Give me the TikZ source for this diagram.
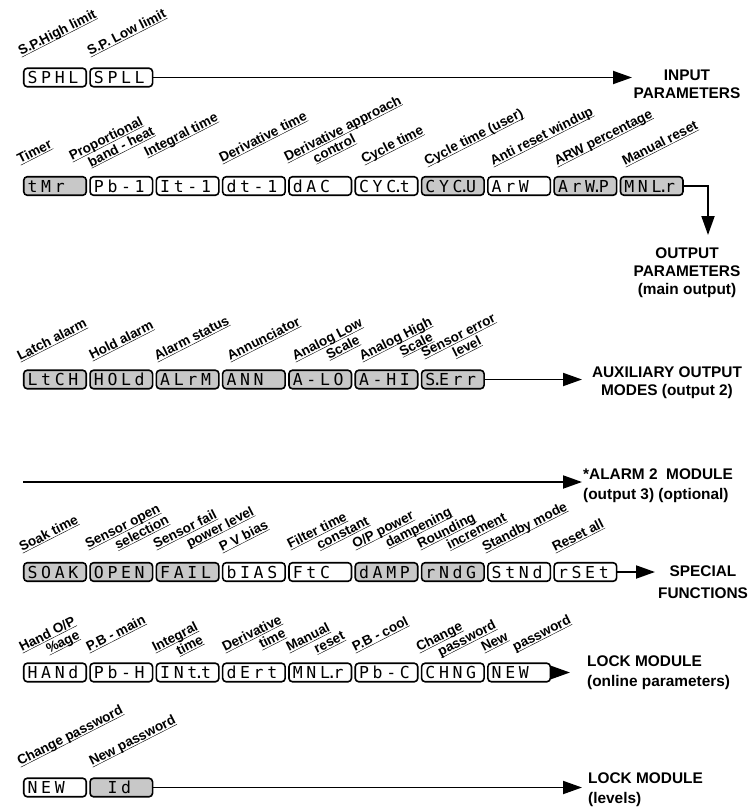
\documentclass[tikz,border=0pt]{standalone}
\usepackage{fontspec}
\setmainfont{Liberation Sans}
\newfontfamily\dispfont{DejaVu Sans Mono}
\usetikzlibrary{arrows.meta,calc}
\definecolor{dgray}{RGB}{200,200,200}
\newcommand\lbu[1]{\underline{\smash{#1}}}
\def\segs#1{\segsi#1\relax}
\def\segsi#1{\ifx#1\relax\else\ifx#1.\makebox[0pt]{.}\else\makebox[13.6pt]{#1}\fi\expandafter\segsi\fi}
\newcommand\onel[4]{\node[lbl] (#1) at (#2,#3) {\lbu{#4}};}
\newcommand\twol[6]{\node[lbl] (#1a) at (#2,#3) {\lbu{#4}};
  \node[lbl] (#1b) at ($(#1a.base west)+(27:#5pt)+(-63:14pt)$) {\lbu{#6}};}
\begin{document}
\begin{tikzpicture}[x=1pt,y=-1pt,
  disp/.style={draw, line width=1.6pt, rounded corners=3.5pt, minimum width=62.5pt,
    minimum height=18.5pt, inner sep=0pt, text height=12pt, text depth=0pt,
    font=\dispfont\fontsize{16.5}{16.5}\selectfont, fill=white},
  g/.style={fill=dgray},
  lbl/.style={font=\bfseries\fontsize{13.5}{14}\selectfont, rotate=27, anchor=base west, inner sep=0pt},
  side/.style={font=\bfseries\fontsize{15.4}{18}\selectfont, inner sep=0pt, text height=11pt, text depth=0pt},
  arr/.style={line width=1.9pt, -{Triangle[length=19pt,width=13pt]}}]
\useasboundingbox (0,0) rectangle (747,808);
% ---------- row 1
\node[disp] (a0) at (55,77.5) {\segs{SPHL}\kern4pt};
\node[disp] (a1) at (121.3,77.5) {\segs{SPLL}\kern4pt};
\coordinate (ta) at (632,77.5);
\draw[arr] (a1.east) -- (ta);
\node[side] (oa1) at (687,74.5) {INPUT};
\node[side] (oa2) at (687,92.5) {PARAMETERS};
\onel{la0}{21}{56}{S.P.High limit}
\onel{la1}{90}{56}{S.P. Low limit}
% ---------- row 2
\node[disp,g] (b0) at (55,186) {\segs{tMr~}\kern4pt};
\node[disp] (b1) at (121.3,186) {\segs{Pb-1}\kern4pt};
\node[disp] (b2) at (187.6,186) {\segs{It-1}\kern4pt};
\node[disp] (b3) at (253.9,186) {\segs{dt-1}\kern4pt};
\node[disp] (b4) at (320.2,186) {\segs{dAC~}\kern4pt};
\node[disp] (b5) at (386.5,186) {\segs{CYC.t}\kern4pt};
\node[disp,g] (b6) at (452.8,186) {\segs{CYC.U}\kern4pt};
\node[disp] (b7) at (519.1,186) {\segs{ArW~}\kern4pt};
\node[disp,g] (b8) at (585.4,186) {\segs{ArW.P}\kern4pt};
\node[disp,g] (b9) at (651.7,186) {\segs{MNL.r}\kern4pt};
\coordinate (tb) at (708,235);
\draw[arr] (b9.east) -| (tb);
\node[side] (ob1) at (687,252.5) {OUTPUT};
\node[side] (ob2) at (687,270.5) {PARAMETERS};
\node[side] (ob3) at (687,289) {(main output)};
\onel{lb0}{20}{164}{Timer}
\twol{lb1}{72}{161}{Proportional}{14}{band - heat}
\onel{lb2}{147}{157}{Integral time}
\onel{lb3}{222}{163}{Derivative time}
\twol{lb4}{287}{162}{Derivative approach}{25}{control}
\onel{lb5}{364}{164}{Cycle time}
\onel{lb6}{427}{166}{Cycle time (user)}
\onel{lb7}{493}{166}{Anti reset windup}
\onel{lb8}{557}{166}{ARW percentage}
\onel{lb9}{625}{166}{Manual reset}
% ---------- row 3
\node[disp,g] (c0) at (55,379.5) {\segs{LtCH}\kern4pt};
\node[disp,g] (c1) at (121.3,379.5) {\segs{HOLd}\kern4pt};
\node[disp,g] (c2) at (187.6,379.5) {\segs{ALrM}\kern4pt};
\node[disp,g] (c3) at (253.9,379.5) {\segs{ANN~}\kern4pt};
\node[disp,g] (c4) at (320.2,379.5) {\segs{A-LO}\kern4pt};
\node[disp,g] (c5) at (386.5,379.5) {\segs{A-HI}\kern4pt};
\node[disp,g] (c6) at (452.8,379.5) {\segs{S.Err}\kern4pt};
\coordinate (tc) at (582,379.5);
\draw[arr] (c6.east) -- (tc);
\node[side] (oc1) at (667,371.5) {AUXILIARY OUTPUT};
\node[side] (oc2) at (667,390) {MODES (output 2)};
\onel{lc0}{20}{361}{Latch alarm}
\onel{lc1}{92}{360}{Hold alarm}
\onel{lc2}{157}{361}{Alarm status}
\onel{lc3}{230}{361}{Annunciator}
\twol{lc4}{295}{361}{Analog Low}{31}{Scale}
\twol{lc5}{362}{361}{Analog High}{38}{Scale}
\twol{lc6}{424}{358}{Sensor error}{28}{level}
% ---------- row 4
\coordinate (sd) at (23,482);
\coordinate (td) at (582,482);
\draw[arr] (sd) -- (td);
\node[side,anchor=west] (od1) at (583,474) {*ALARM 2~~MODULE};
\node[side,anchor=west] (od2) at (583,494) {(output 3) (optional)};
% ---------- row 5
\node[disp,g] (e0) at (55,572) {\segs{SOAK}\kern4pt};
\node[disp,g] (e1) at (121.3,572) {\segs{OPEN}\kern4pt};
\node[disp,g] (e2) at (187.6,572) {\segs{FAIL}\kern4pt};
\node[disp] (e3) at (253.9,572) {\segs{bIAS}\kern4pt};
\node[disp] (e4) at (320.2,572) {\segs{FtC~}\kern4pt};
\node[disp,g] (e5) at (386.5,572) {\segs{dAMP}\kern4pt};
\node[disp,g] (e6) at (452.8,572) {\segs{rNdG}\kern4pt};
\node[disp] (e7) at (519.1,572) {\segs{StNd}\kern4pt};
\node[disp] (e8) at (585.4,572) {\segs{rSEt}\kern4pt};
\coordinate (te) at (655,572);
\draw[arr] (e8.east) -- (te);
\node[side] (oe1) at (703,571) {SPECIAL};
\node[side] (oe2) at (703,592.5) {FUNCTIONS};
\onel{le0}{22}{552}{Soak time}
\twol{le1}{88}{549}{Sensor open}{26}{selection}
\twol{le2}{156}{549}{Sensor fail}{30}{power level}
\onel{le3}{222}{552}{P V bias}
\twol{le4}{290}{549}{Filter time}{26}{constant}
\twol{le5}{355}{549}{O/P power}{30}{dampening}
\twol{le6}{420}{549}{Rounding}{26}{increment}
\onel{le7}{485}{552}{Standby mode}
\onel{le8}{555}{552}{Reset all}
% ---------- row 6
\node[disp] (f0) at (55,672.5) {\segs{HANd}\kern4pt};
\node[disp] (f1) at (121.3,672.5) {\segs{Pb-H}\kern4pt};
\node[disp] (f2) at (187.6,672.5) {\segs{INt.t}\kern4pt};
\node[disp] (f3) at (253.9,672.5) {\segs{dErt}\kern4pt};
\node[disp] (f4) at (320.2,672.5) {\segs{MNL.r}\kern4pt};
\node[disp] (f5) at (386.5,672.5) {\segs{Pb-C}\kern4pt};
\node[disp] (f6) at (452.8,672.5) {\segs{CHNG}\kern4pt};
\node[disp] (f7) at (519.1,672.5) {\segs{NEW~}\kern4pt};
\coordinate (tf) at (570,672.5);
\draw[arr] (f7.east) -- (tf);
\node[side,anchor=west] (of1) at (587,661) {LOCK MODULE};
\node[side,anchor=west] (of2) at (587,681) {(online parameters)};
\twol{lf0}{22}{652}{Hand O/P}{23}{\%age}
\onel{lf1}{89}{652}{P.B - main}
\twol{lf2}{155}{652}{Integral}{20}{time}
\twol{lf3}{225}{652}{Derivative}{34}{time}
\twol{lf4}{289}{652}{Manual}{24}{reset}
\onel{lf5}{355}{652}{P.B - cool}
\twol{lf6}{419}{652}{Change}{17}{password}
\twol{lf7}{484}{652}{New}{28}{password}
% ---------- row 7
\node[disp] (h0) at (55,787.5) {\segs{NEW~}\kern4pt};
\node[disp,g] (h1) at (121.3,787.5) {\segs{~Id~}\kern4pt};
\coordinate (th) at (582,787.5);
\draw[arr] (h1.east) -- (th);
\node[side,anchor=west] (oh1) at (588,778) {LOCK MODULE};
\node[side,anchor=west] (oh2) at (588,798) {(levels)};
\onel{lh0}{20}{766}{Change password}
\onel{lh1}{92}{766}{New password}
\end{tikzpicture}
\end{document}
